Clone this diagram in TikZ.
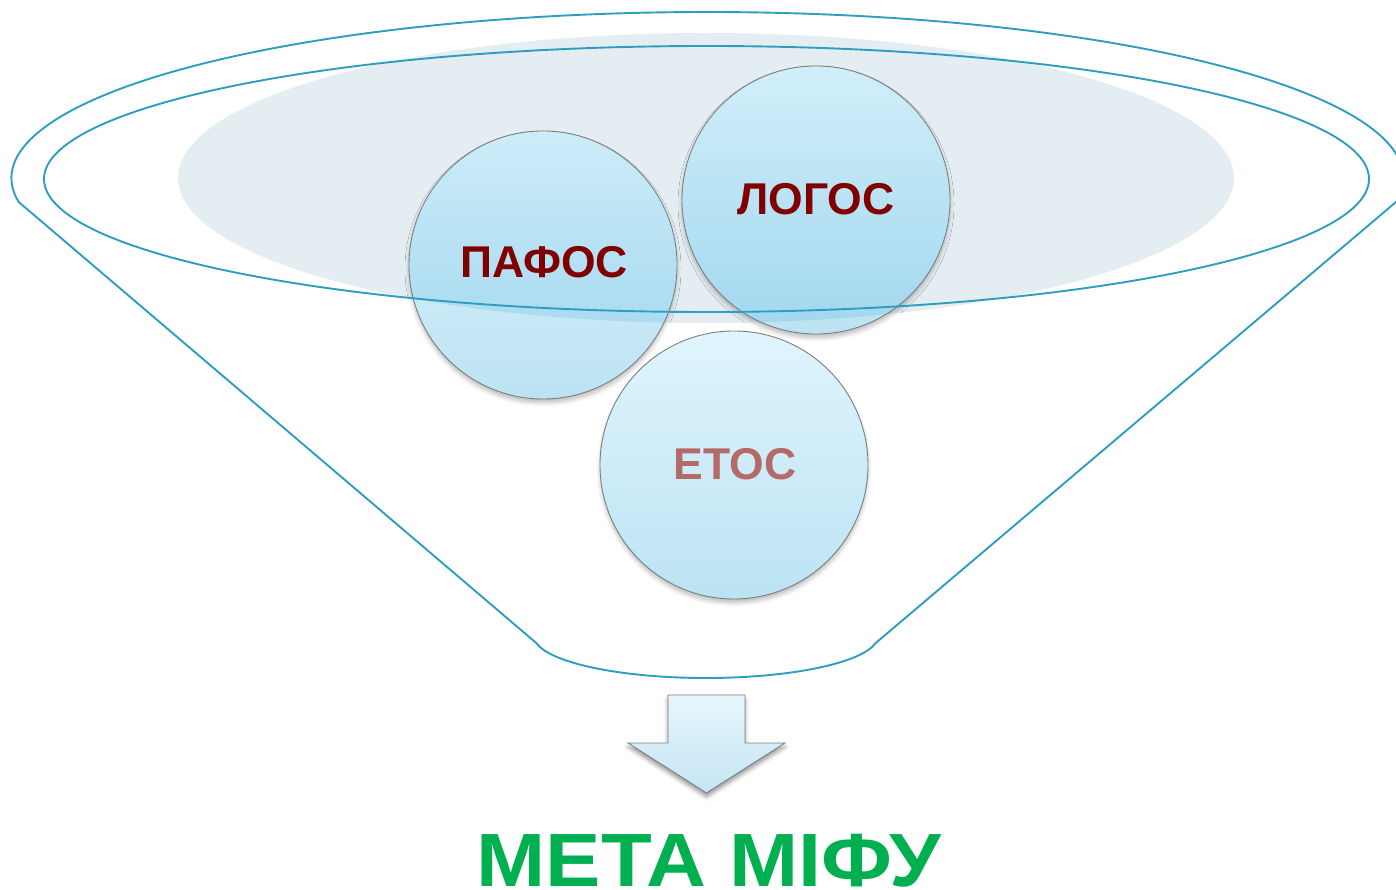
\documentclass[tikz,border=0pt]{standalone}
\usepackage{fontspec}
\setmainfont{Liberation Sans}
\usetikzlibrary{shadows.blur}
\definecolor{funnel}{RGB}{46,158,192}
\definecolor{haze}{RGB}{227,237,242}
\definecolor{maroonred}{RGB}{128,0,0}
\definecolor{etosred}{RGB}{181,106,106}
\definecolor{mgreen}{RGB}{0,176,80}
\definecolor{ctop}{RGB}{224,245,253}
\definecolor{cbot}{RGB}{188,227,243}
\definecolor{ttop}{RGB}{150,215,240}
\definecolor{tbot}{RGB}{60,170,220}
\definecolor{atop}{RGB}{230,246,253}
\definecolor{abot}{RGB}{196,229,243}
\definecolor{rimgray}{RGB}{125,125,125}
\begin{document}
\begin{tikzpicture}[x=1pt,y=1pt,
  funnelline/.style={draw=funnel, line width=1.9pt},
  ball/.style={circle, minimum size=268pt, inner sep=0pt, draw=rimgray, line width=0.9pt,
    top color=ctop, bottom color=cbot,
    blur shadow={shadow xshift=0pt, shadow yshift=-4pt, shadow blur radius=4pt, shadow opacity=25}},
  word/.style={anchor=base, font=\fontsize{44.5}{50}\selectfont\bfseries},
  arrowbox/.style={draw=rimgray, line width=0.9pt, top color=atop, bottom color=abot,
    blur shadow={shadow xshift=0pt, shadow yshift=-4pt, shadow blur radius=4pt, shadow opacity=40}},
]
\useasboundingbox (0,0) rectangle (1396,889);
% haze inside the rim
\fill[haze] (706,711) ellipse [x radius=528pt, y radius=145pt];
% funnel outline
\draw[funnelline, line join=round] (1396,687)
  arc[start angle=-8.31, end angle=188.31, x radius=696pt, y radius=166pt]
  -- (536.6,245.7)
  arc[start angle=190, end angle=350, x radius=172pt, y radius=42pt]
  -- cycle;
% circles
\node[ball] (pafos) at (543,624) {};
\node[ball] (logos) at (816,689) {};
\node[ball] (etos) at (734,424) {};
% blue tint where the circles lie in the haze
\begin{scope}
\clip (pafos.center) circle[radius=133.5pt] (logos.center) circle[radius=133.5pt];
\clip (706,711) ellipse [x radius=528pt, y radius=145pt];
\shade[top color=ttop, bottom color=tbot, fill opacity=0.2] (300,566) rectangle (1100,823);
\end{scope}
% inner rim
\draw[funnelline] (706.5,710) ellipse [x radius=662.5pt, y radius=133pt];
% words
\node[word, text=maroonred] (pafostext) at ([xshift=1pt,yshift=-13pt]pafos.center) {ПАФОС};
\node[word, text=maroonred] (logostext) at ([yshift=-15pt]logos.center) {ЛОГОС};
\node[word, text=etosred] (etostext) at ([xshift=1pt,yshift=-15pt]etos.center) {ЕТОС};
% arrow
\draw[arrowbox, line join=miter] (668,194) -- (745,194) -- (745,146) -- (785,146)
  -- (706.5,96) -- (628,146) -- (668,146) -- cycle;
% goal
\node[anchor=base, inner sep=0pt, text=mgreen, font=\fontsize{75.5}{80}\selectfont\bfseries] (goal) at (709,3) {\scalebox{1.1}[1]{МЕТА МІФУ}};
\end{tikzpicture}
\end{document}
